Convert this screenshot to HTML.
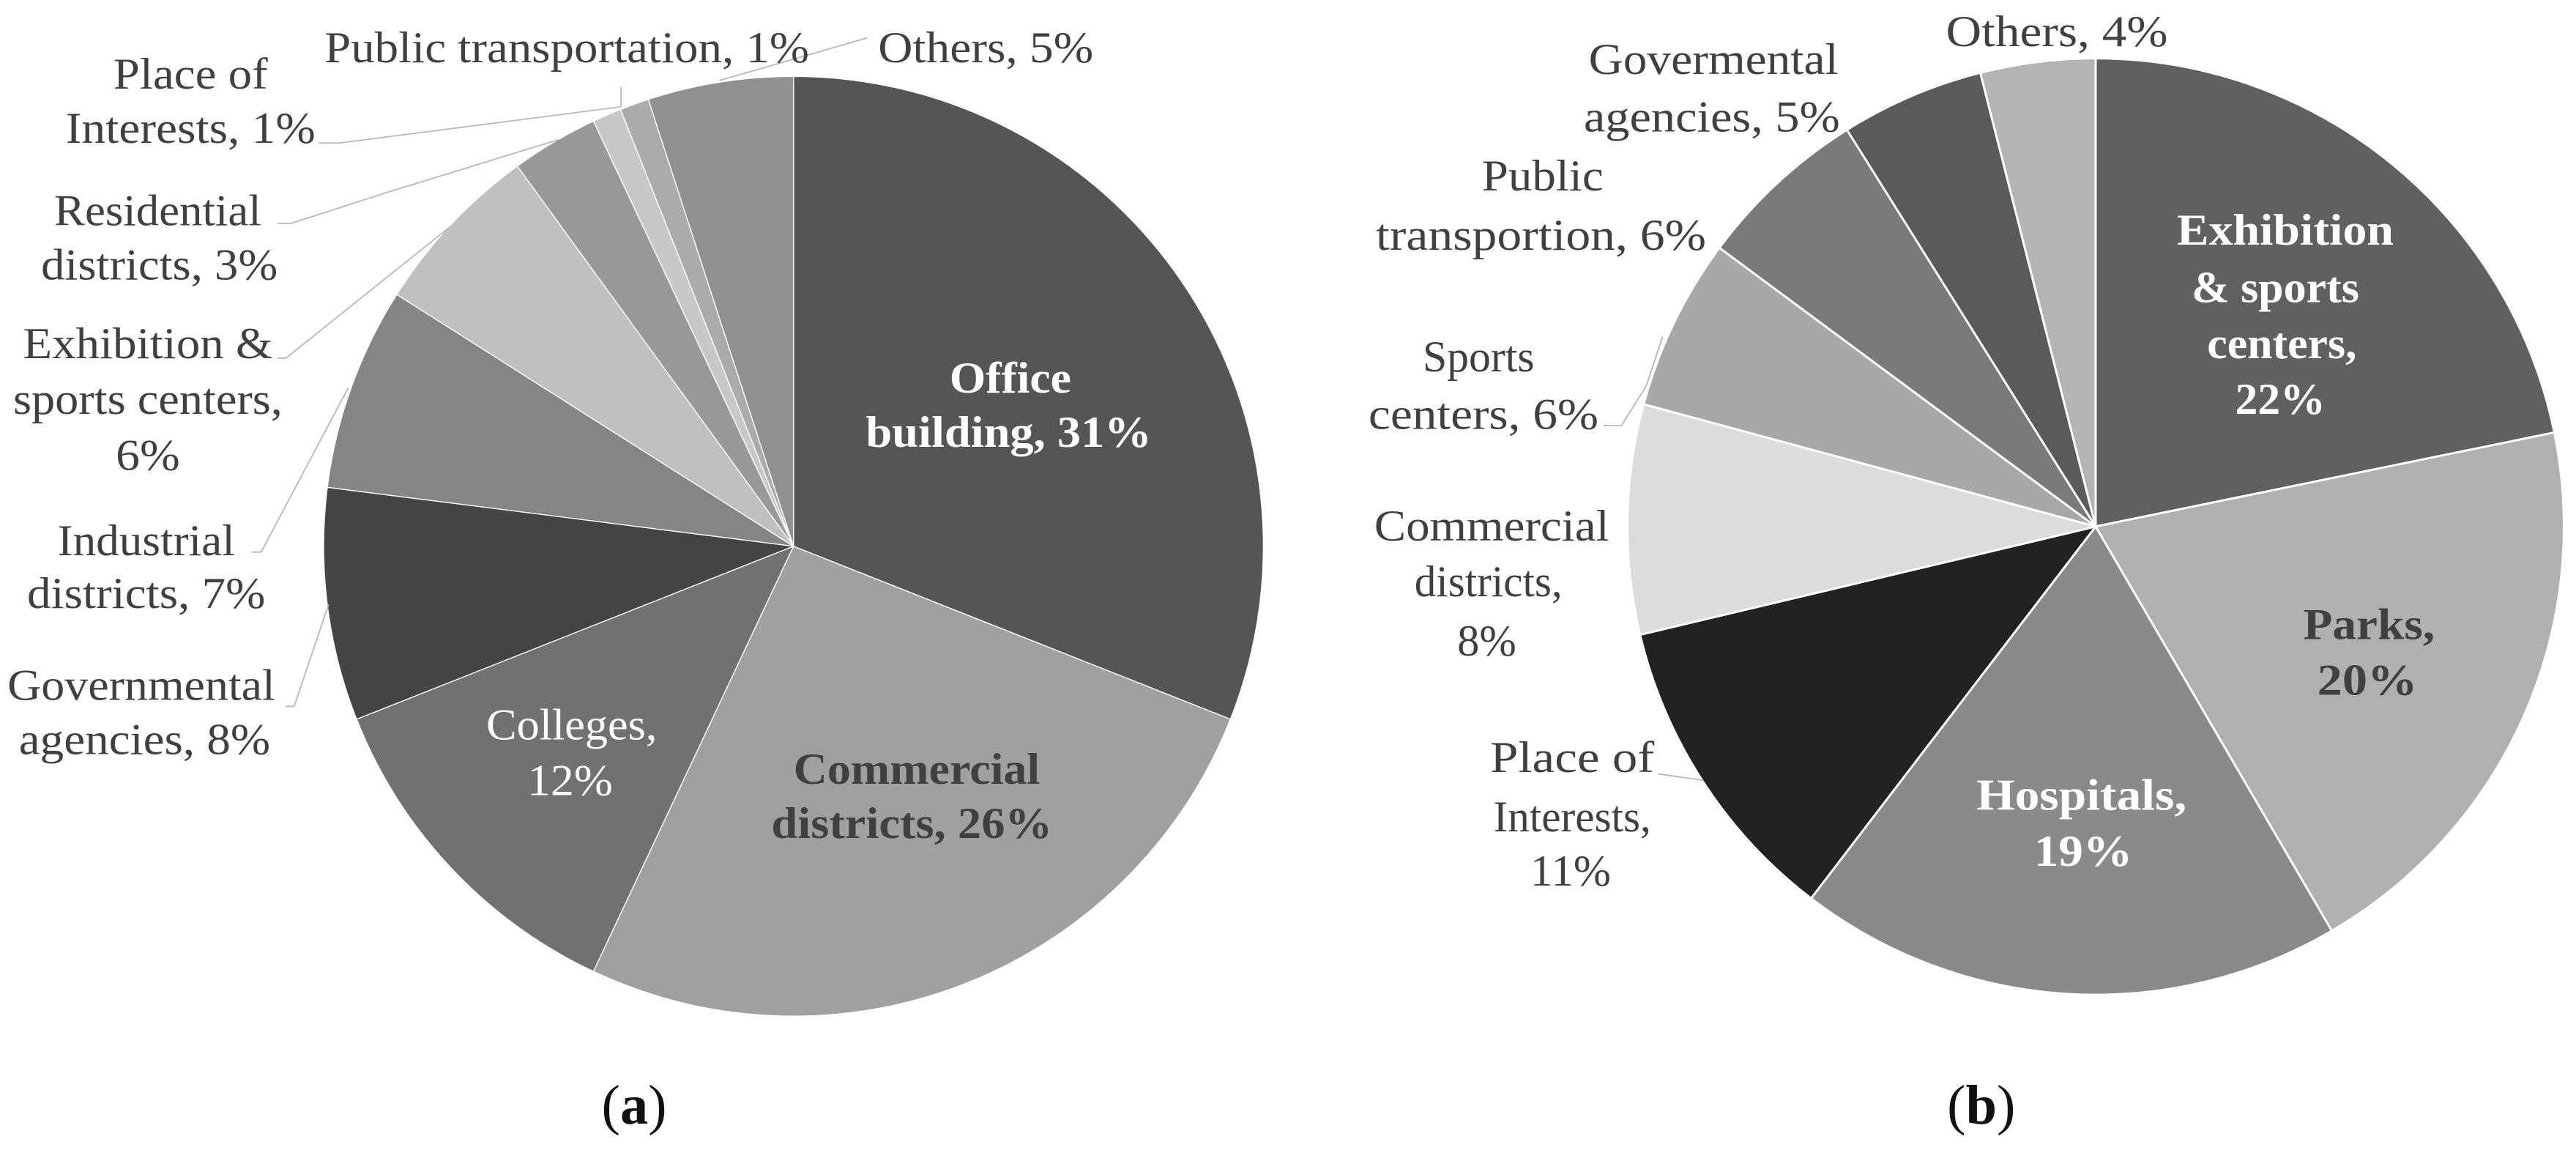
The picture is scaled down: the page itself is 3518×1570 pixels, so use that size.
<!DOCTYPE html>
<html><head><meta charset="utf-8"><style>
html,body{margin:0;padding:0;background:#fff;}
svg{display:block;}
text{font-family:"Liberation Serif",serif;}
</style></head><body>
<svg id="chart" width="3518" height="1570" viewBox="0 0 1568 700" preserveAspectRatio="none" xmlns="http://www.w3.org/2000/svg">
<g id="pieA"></g>
<g id="pieB"></g>
<g stroke="#b8b8b8" stroke-width="0.8" fill="none">
<polyline points="528,23 438,49"/>
<polyline points="378,53 378,65"/>
<polyline points="194,87 207,87 378,65"/>
<polyline points="169,136 177,136 236,117 340,85"/>
<polyline points="169,218 174,218 274,138"/>
<polyline points="153,336 159,336 212,236"/>
<polyline points="174,430 179,430 200,368"/>
</g>
<g stroke="#b8b8b8" stroke-width="0.8" fill="none">
<polyline points="976,259 987,259 1002,235 1012,205"/>
<polyline points="1009,471 1037,475"/>
</g>
<g fill="#404040" font-size="27">
<text x="615" y="239" text-anchor="middle" font-weight="bold" fill="#fff" textLength="74" lengthAdjust="spacingAndGlyphs">Office</text>
<text x="614" y="272" text-anchor="middle" font-weight="bold" fill="#fff" textLength="174" lengthAdjust="spacingAndGlyphs">building, 31%</text>
<text x="558" y="477" text-anchor="middle" font-weight="bold" textLength="150" lengthAdjust="spacingAndGlyphs">Commercial</text>
<text x="555" y="510" text-anchor="middle" font-weight="bold" textLength="171" lengthAdjust="spacingAndGlyphs">districts, 26%</text>
<text x="348" y="450" text-anchor="middle" fill="#fff" textLength="104" lengthAdjust="spacingAndGlyphs">Colleges,</text>
<text x="347" y="484" text-anchor="middle" fill="#fff" textLength="52" lengthAdjust="spacingAndGlyphs">12%</text>
<text x="86" y="426" text-anchor="middle" textLength="163" lengthAdjust="spacingAndGlyphs">Governmental</text>
<text x="88" y="459" text-anchor="middle" textLength="153" lengthAdjust="spacingAndGlyphs">agencies, 8%</text>
<text x="89" y="338" text-anchor="middle" textLength="108" lengthAdjust="spacingAndGlyphs">Industrial</text>
<text x="89" y="370" text-anchor="middle" textLength="145" lengthAdjust="spacingAndGlyphs">districts, 7%</text>
<text x="90" y="218" text-anchor="middle" textLength="152" lengthAdjust="spacingAndGlyphs">Exhibition &amp;</text>
<text x="90" y="252" text-anchor="middle" textLength="164" lengthAdjust="spacingAndGlyphs">sports centers,</text>
<text x="90" y="286" text-anchor="middle" textLength="39" lengthAdjust="spacingAndGlyphs">6%</text>
<text x="96" y="137" text-anchor="middle" textLength="126" lengthAdjust="spacingAndGlyphs">Residential</text>
<text x="97" y="170" text-anchor="middle" textLength="144" lengthAdjust="spacingAndGlyphs">districts, 3%</text>
<text x="116" y="54" text-anchor="middle" textLength="94" lengthAdjust="spacingAndGlyphs">Place of</text>
<text x="116" y="87" text-anchor="middle" textLength="152" lengthAdjust="spacingAndGlyphs">Interests, 1%</text>
<text x="345" y="38" text-anchor="middle" textLength="295" lengthAdjust="spacingAndGlyphs">Public transportation, 1%</text>
<text x="600" y="38" text-anchor="middle" textLength="131" lengthAdjust="spacingAndGlyphs">Others, 5%</text>
</g>
<g fill="#404040" font-size="27">
<text x="1391" y="149" text-anchor="middle" font-weight="bold" fill="#fff" textLength="132" lengthAdjust="spacingAndGlyphs">Exhibition</text>
<text x="1385" y="184" text-anchor="middle" font-weight="bold" fill="#fff" textLength="102" lengthAdjust="spacingAndGlyphs">&amp; sports</text>
<text x="1389" y="218" text-anchor="middle" font-weight="bold" fill="#fff" textLength="91" lengthAdjust="spacingAndGlyphs">centers,</text>
<text x="1388" y="252" text-anchor="middle" font-weight="bold" fill="#fff" textLength="55" lengthAdjust="spacingAndGlyphs">22%</text>
<text x="1442" y="389" text-anchor="middle" font-weight="bold" textLength="80" lengthAdjust="spacingAndGlyphs">Parks,</text>
<text x="1441" y="423" text-anchor="middle" font-weight="bold" textLength="61" lengthAdjust="spacingAndGlyphs">20%</text>
<text x="1267" y="493" text-anchor="middle" font-weight="bold" fill="#fff" textLength="128" lengthAdjust="spacingAndGlyphs">Hospitals,</text>
<text x="1268" y="527" text-anchor="middle" font-weight="bold" fill="#fff" textLength="60" lengthAdjust="spacingAndGlyphs">19%</text>
<text x="957" y="470" text-anchor="middle" textLength="100" lengthAdjust="spacingAndGlyphs">Place of</text>
<text x="957" y="506" text-anchor="middle" textLength="96" lengthAdjust="spacingAndGlyphs">Interests,</text>
<text x="956" y="539" text-anchor="middle" textLength="49" lengthAdjust="spacingAndGlyphs">11%</text>
<text x="908" y="329" text-anchor="middle" textLength="143" lengthAdjust="spacingAndGlyphs">Commercial</text>
<text x="906" y="363" text-anchor="middle" textLength="90" lengthAdjust="spacingAndGlyphs">districts,</text>
<text x="905" y="399" text-anchor="middle" textLength="36" lengthAdjust="spacingAndGlyphs">8%</text>
<text x="900" y="226" text-anchor="middle" textLength="68" lengthAdjust="spacingAndGlyphs">Sports</text>
<text x="903" y="261" text-anchor="middle" textLength="140" lengthAdjust="spacingAndGlyphs">centers, 6%</text>
<text x="939" y="116" text-anchor="middle" textLength="74" lengthAdjust="spacingAndGlyphs">Public</text>
<text x="938" y="152" text-anchor="middle" textLength="201" lengthAdjust="spacingAndGlyphs">transportion, 6%</text>
<text x="1043" y="45" text-anchor="middle" textLength="152" lengthAdjust="spacingAndGlyphs">Govermental</text>
<text x="1042" y="80" text-anchor="middle" textLength="156" lengthAdjust="spacingAndGlyphs">agencies, 5%</text>
<text x="1252" y="28" text-anchor="middle" textLength="135" lengthAdjust="spacingAndGlyphs">Others, 4%</text>
</g>
<text x="386" y="684" text-anchor="middle" font-size="34" fill="#111">(<tspan font-weight="bold">a</tspan>)</text>
<text x="1206" y="684" text-anchor="middle" font-size="34" fill="#111">(<tspan font-weight="bold">b</tspan>)</text>
</svg>
<script>
const catsA = ["Office building","Commercial districts","Colleges","Governmental agencies","Industrial districts","Exhibition & sports centers","Residential districts","Place of Interests","Public transportation","Others"];
const valsA = [31,26,12,8,7,6,3,1,1,5];
const colorsA = ["#555555","#a0a0a0","#717171","#444444","#858585","#c0c0c0","#999999","#c8c8c8","#ababab","#909090"];
const catsB = ["Exhibition & sports centers","Parks","Hospitals","Place of Interests","Commercial districts","Sports centers","Public transportion","Govermental agencies","Others"];
const valsB = [22,20,19,11,8,6,6,5,4];
const colorsB = ["#606060","#b0b0b0","#8a8a8a","#222222","#dcdcdc","#a8a8a8","#7a7a7a","#5a5a5a","#b4b4b4"];
const NS = "http://www.w3.org/2000/svg";
function drawPie(gid, cats, vals, colors, cx, cy, r, sw){
  const g = document.getElementById(gid);
  const total = vals.reduce((a,b)=>a+b,0);
  let acc = 0;
  vals.forEach((v,i)=>{
    const a0 = acc/total*2*Math.PI; acc += v; const a1 = acc/total*2*Math.PI;
    const x0 = cx + r*Math.sin(a0), y0 = cy - r*Math.cos(a0);
    const x1 = cx + r*Math.sin(a1), y1 = cy - r*Math.cos(a1);
    const large = (a1-a0) > Math.PI ? 1 : 0;
    const p = document.createElementNS(NS,"path");
    p.setAttribute("d", `M${cx},${cy} L${x0},${y0} A${r},${r} 0 ${large} 1 ${x1},${y1} Z`);
    p.setAttribute("fill", colors[i]);
    p.setAttribute("stroke", "#fff");
    p.setAttribute("stroke-width", sw);
    p.setAttribute("stroke-linejoin", "round");
    
    
    g.appendChild(p);
  });
}
drawPie("pieA", catsA, valsA, colorsA, 483, 332.5, 286, 0.6);
drawPie("pieB", catsB, valsB, colorsB, 1275.6, 320.5, 285, 1.3);
</script>
</body></html>
